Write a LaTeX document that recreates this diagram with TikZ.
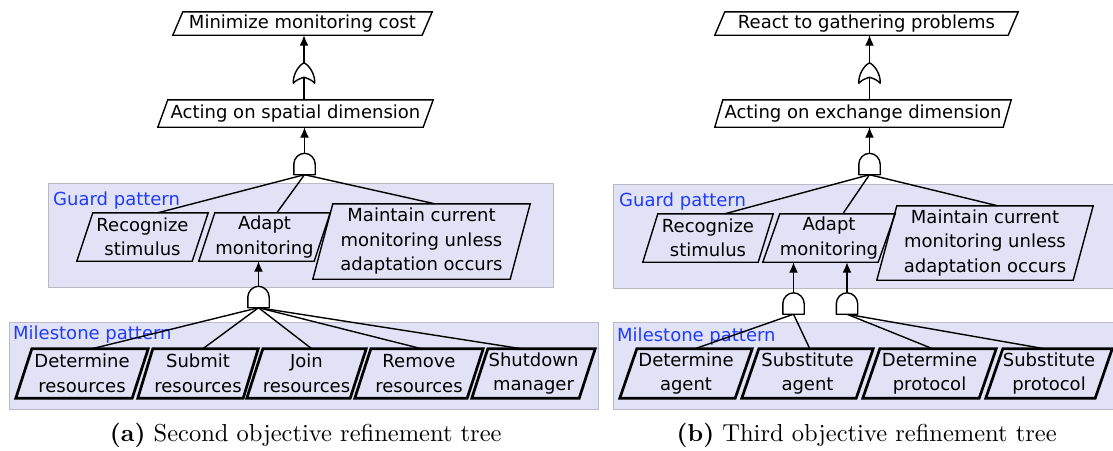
\documentclass[tikz,border=0pt]{standalone}
\usepackage{fontspec}
\newfontfamily\dv{DejaVu Sans}
\newfontfamily\capfont{lmroman10-regular.otf}[BoldFont=lmroman10-bold.otf]
\usetikzlibrary{calc,arrows.meta}
\definecolor{boxfill}{RGB}{226,226,246}
\definecolor{boxline}{RGB}{185,185,200}
\definecolor{lblue}{RGB}{30,60,255}
\newcommand\andgate[1]{%
  \draw[gatestyle] (#1.south west) -- (#1.south east) -- ($(#1.south east)+(0,-10.5)$)
    .. controls +(0,-5.8) and +(5.8,0) .. (#1.north)
    .. controls +(-5.8,0) and +(0,-5.8) .. ($(#1.south west)+(0,-10.5)$) -- cycle;}
\newcommand\orgate[1]{%
  \draw[gatestyle] (#1.north) .. controls +(6,3) and +(0.5,-8) .. (#1.south east)
    .. controls +(-4,-4) and +(5,2) .. ($(#1.south)+(0,-6)$)
    .. controls +(-5,2) and +(4,-4) .. (#1.south west)
    .. controls +(-0.5,-8) and +(-6,3) .. (#1.north) -- cycle;}
\begin{document}
\begin{tikzpicture}[x=1pt,y=-1pt,
  goal/.style={rectangle, inner sep=0pt, align=center, font=\dv\fontsize{18}{24.5}\selectfont},
  lbl/.style={anchor=base west, inner sep=0pt, text=lblue, font=\dv\fontsize{18}{22}\selectfont},
  conn/.style={line width=1.4pt},
  arr/.style={line width=1.4pt, -{Latex[length=10.5pt,width=9pt]}},
  gatestyle/.style={line width=1.4pt, fill=white, line join=round},
  gatebox/.style={rectangle, inner sep=0pt, minimum width=21pt},
  grp/.style={fill=boxfill, draw=boxline, line width=1pt},
  captext/.style={anchor=base, inner sep=0pt, font=\capfont\fontsize{24.5}{28}\selectfont}
]
\useasboundingbox (0,0) rectangle (1113,450);

% group backgrounds
\draw[grp] (48,183) rectangle (553,287);
\draw[grp] (9,322) rectangle (598,409);
\draw[grp] (613,184) rectangle (1116,288);
\draw[grp] (613,322) rectangle (1116,409);
\node[lbl] (gl1) at (53,205) {Guard pattern};
\node[lbl] (ml1) at (13,339.5) {Milestone pattern};
\node[lbl] (gl2) at (619,206) {Guard pattern};
\node[lbl] (ml2) at (617,341) {Milestone pattern};

% ---------- panel (a)
\node[goal, minimum width=259pt, minimum height=23pt] (n1) at (302.5,23.5) {Minimize monitoring cost};
\node[goal, minimum width=275pt, minimum height=27pt] (n2) at (295.5,113.5) {Acting on spatial dimension};
\node[goal, minimum width=131pt, minimum height=48pt] (rec) at (142.5,237) {Recognize\\stimulus};
\node[goal, minimum width=131pt, minimum height=48pt] (ada) at (264.5,237) {Adapt\\monitoring};
\node[goal, minimum width=217pt, minimum height=75pt] (mai) at (421.5,241.5) {Maintain current\\monitoring unless\\adaptation occurs};
\node[goal, minimum width=132pt, minimum height=49pt] (dr) at (82,373.5) {Determine\\resources};
\node[goal, minimum width=120pt, minimum height=49pt] (sr) at (198,373.5) {Submit\\resources};
\node[goal, minimum width=119pt, minimum height=49pt] (jr) at (306.5,373.5) {Join\\resources};
\node[goal, minimum width=128pt, minimum height=49pt] (rr) at (419,373.5) {Remove\\resources};
\node[goal, minimum width=123pt, minimum height=49pt] (sm) at (533.5,373.5) {Shutdown\\manager};

\node[gatebox, minimum height=20pt] (o1) at (304,73) {};
\node[gatebox, minimum height=21pt] (a1) at (304.5,164) {};
\node[gatebox, minimum height=21pt] (a2) at (258.5,297) {};

\draw[conn] (n2.north -| o1) -- ($(o1.south)+(0,-6)$);
\draw[arr] (o1.north) -- (o1.north |- n1.south);
\draw[arr] (a1.north) -- (a1.north |- n2.south);
\draw[conn] (a1.south) -- ($(rec.north west)+(81,0)$);
\draw[conn] (a1.south) -- ($(ada.north west)+(78,0)$);
\draw[conn] (a1.south) -- ($(mai.north west)+(122,0)$);
\draw[arr] (a2.north) -- (a2.north |- ada.south);
\draw[conn] (a2.south) -- ($(dr.north west)+(76,0)$);
\draw[conn] (a2.south) -- ($(sr.north west)+(65,0)$);
\draw[conn] (a2.south) -- ($(jr.north west)+(65,0)$);
\draw[conn] (a2.south) -- ($(rr.north west)+(67,0)$);
\draw[conn] (a2.south) -- ($(sm.north west)+(50,0)$);
\orgate{o1}
\andgate{a1}
\andgate{a2}

% ---------- panel (b)
\node[goal, minimum width=303pt, minimum height=23pt] (m1) at (866.5,23.5) {React to gathering problems};
\node[goal, minimum width=296pt, minimum height=27pt] (m2) at (863,113.5) {Acting on exchange dimension};
\node[goal, minimum width=130pt, minimum height=48pt] (recb) at (708,238) {Recognize\\stimulus};
\node[goal, minimum width=132pt, minimum height=48pt] (adab) at (829,238) {Adapt\\monitoring};
\node[goal, minimum width=216pt, minimum height=74pt] (maib) at (985,243) {Maintain current\\monitoring unless\\adaptation occurs};
\node[goal, minimum width=132pt, minimum height=49pt] (da) at (686,373.5) {Determine\\agent};
\node[goal, minimum width=131pt, minimum height=49pt] (sa) at (807.5,373.5) {Substitute\\agent};
\node[goal, minimum width=133pt, minimum height=49pt] (dp) at (929.5,373.5) {Determine\\protocol};
\node[goal, minimum width=126pt, minimum height=49pt] (sp) at (1049,373.5) {Substitute\\protocol};

\node[gatebox, minimum height=20pt] (o2) at (869.5,73) {};
\node[gatebox, minimum height=21pt] (a3) at (869.5,164) {};
\node[gatebox, minimum height=21pt] (ga) at (793.5,303.5) {};
\node[gatebox, minimum height=21pt] (gb) at (847,303.5) {};

\draw[conn] (m2.north -| o2) -- ($(o2.south)+(0,-6)$);
\draw[arr] (o2.north) -- (o2.north |- m1.south);
\draw[arr] (a3.north) -- (a3.north |- m2.south);
\draw[conn] (a3.south) -- ($(recb.north west)+(82,0)$);
\draw[conn] (a3.south) -- ($(adab.north west)+(80,0)$);
\draw[conn] (a3.south) -- ($(maib.north west)+(121,0)$);
\draw[arr] (ga.north) -- (ga.north |- adab.south);
\draw[arr] (gb.north) -- (gb.north |- adab.south);
\draw[conn] (ga.south) -- ($(da.north west)+(75,0)$);
\draw[conn] (ga.south) -- ($(sa.north west)+(68,0)$);
\draw[conn] (gb.south) -- ($(dp.north west)+(70,0)$);
\draw[conn] (gb.south) -- ($(sp.north west)+(59,0)$);
\orgate{o2}
\andgate{a3}
\andgate{ga}
\andgate{gb}

% parallelogram outlines
\foreach \n/\s/\w in {n1/10/1.4, n2/10/1.4, rec/16/1.4, ada/16/1.4, mai/20/1.4,
  m1/10/1.4, m2/8/1.4, recb/15/1.4, adab/17/1.4, maib/20/1.4,
  dr/16/2.7, sr/15/2.7, jr/16/2.7, rr/16/2.7, sm/16/2.7,
  da/17/2.7, sa/17/2.7, dp/17/2.7, sp/17/2.7}
  \draw[line width=\w pt] (\n.south west) -- ($(\n.north west)+(\s,0)$) -- (\n.north east)
     -- ($(\n.south east)+(-\s,0)$) -- cycle;

% captions
\node[captext] (capa) at (305.8,441) {\textbf{(a)} Second objective refinement tree};
\node[captext] (capb) at (866.7,441) {\textbf{(b)} Third objective refinement tree};
\end{tikzpicture}
\end{document}
